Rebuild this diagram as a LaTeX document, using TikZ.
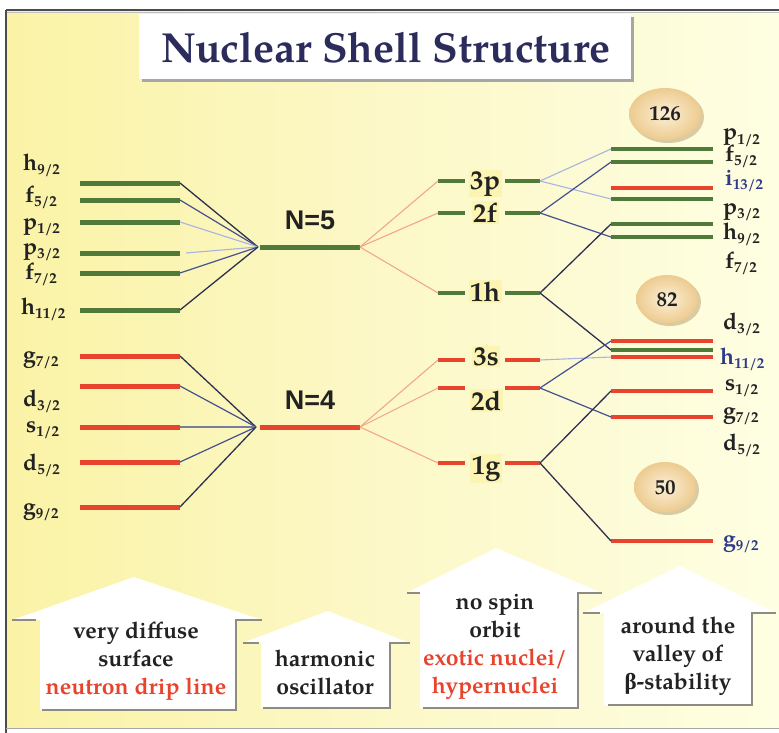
\documentclass[tikz,border=0pt]{standalone}
\usepackage{fontspec}
\setmainfont{TeX Gyre Pagella}
\newfontfamily\sansb{Liberation Sans}
\newfontfamily\grk{Liberation Serif}
\definecolor{lgreen}{HTML}{4F7A3A}
\definecolor{lred}{HTML}{E8432C}
\definecolor{lorange}{HTML}{F3A68C}
\definecolor{cdk}{HTML}{2E3050}
\definecolor{cmd}{HTML}{46508F}
\definecolor{clt}{HTML}{A9B2E2}
\definecolor{tblue}{HTML}{2F3A8A}
\definecolor{tred}{HTML}{E8432C}
\definecolor{ttext}{HTML}{222222}
\definecolor{ttitle}{HTML}{2B2C5C}
\definecolor{bgL}{HTML}{FAF3A6}
\definecolor{bgM}{HTML}{FCF8C8}
\definecolor{bgR}{HTML}{FEFEE2}
\definecolor{hse}{HTML}{8C8C84}
\definecolor{bubI}{HTML}{FCF0D6}
\definecolor{bubO}{HTML}{EDCB90}
\definecolor{hilite}{HTML}{FBF4B2}
\newcommand\lsub[1]{\raisebox{-4.5pt}{\fontsize{15}{15}\selectfont #1}}
\newcommand\lvfont{\fontsize{23}{23}\selectfont\bfseries}
\tikzset{
  lvG/.style={line width=5pt, draw=lgreen},
  lvR/.style={line width=5pt, draw=lred},
  orc/.style={line width=1.1pt, draw=lorange},
  cdark/.style={line width=1.3pt, draw=cdk},
  cmid/.style={line width=1.2pt, draw=cmd},
  clight/.style={line width=1.1pt, draw=clt},
  lab/.style={anchor=base west, inner sep=0pt, font=\lvfont, text=ttext},
  midlab/.style={anchor=base, inner sep=1.5pt, fill=hilite, font=\fontsize{27}{27}\selectfont\bfseries, text=ttext},
  nlab/.style={anchor=base, inner sep=0pt, font=\sansb\fontsize{27}{27}\selectfont\bfseries, text=ttext},
  bubtext/.style={anchor=base, inner sep=0pt, font=\fontsize{21}{21}\selectfont\bfseries, text=ttext},
  boxtext/.style={align=center, inner sep=0pt, font=\fontsize{23}{28}\selectfont\bfseries, text=ttext},
  hseline/.style={draw=hse, line width=1.1pt},
}
\begin{document}
\begin{tikzpicture}[x=1pt,y=-1pt]
\useasboundingbox (0,0) rectangle (779,733);
\fill[white] (0,0) rectangle (779,733);
\shade[left color=bgL, right color=bgR, middle color=bgM] (6,10) rectangle (779,728);
% frame
\draw[draw=black!70, line width=1.6pt] (6,10) -- (779,10);
\draw[draw=black!25, line width=0.8pt] (6,12.5) -- (779,12.5);
\draw[draw=black!70, line width=1.6pt] (6,10) -- (6,733);
\draw[draw=black!35, line width=1pt] (6,728) -- (779,728);

% title
\fill[black!35] (142,17) rectangle (634,82);
\fill[white] (139,14) rectangle (631,79);
\node[inner sep=0pt, font=\fontsize{42}{42}\selectfont\bfseries, text=ttitle] (title) at (386,48) {Nuclear Shell Structure};

% ---------- left levels N=5 ----------
\foreach \n/\yy in {1/183,2/200,3/222,4/253,5/273,6/310}{
  \coordinate (A\n) at (80,\yy); \coordinate (B\n) at (180,\yy);
  \draw[lvG] (A\n) -- (B\n);}
\coordinate (B4s) at (186,253);
\coordinate (C5) at (258,247);
\coordinate (N5a) at (260,247); \coordinate (N5b) at (360,247);
\draw[cdark] (B1) -- (C5);
\draw[cmid] (B2) -- (C5);
\draw[clight] (B3) -- (C5);
\draw[clight] (B4s) -- (C5);
\draw[cmid] (B5) -- (C5);
\draw[cdark] (B6) -- (C5);
\draw[lvG] (N5a) -- (N5b);
\node[nlab] (n5) at (310,229) {N=5};

% ---------- left levels N=4 ----------
\foreach \n/\yy in {1/356,2/386,3/427,4/462,5/507}{
  \coordinate (D\n) at (80,\yy); \coordinate (E\n) at (180,\yy);
  \draw[lvR] (D\n) -- (E\n);}
\coordinate (C4) at (256,427);
\coordinate (N4a) at (260,427); \coordinate (N4b) at (360,427);
\draw[cdark] (E1) -- (C4);
\draw[cmid] (E2) -- (C4);
\draw[clight, draw=black!30!clt] (E3) -- (C4);
\draw[cmid] (E4) -- (C4);
\draw[cdark] (E5) -- (C4);
\draw[lvR] (N4a) -- (N4b);
\node[nlab] (n4) at (310,409) {N=4};

% left labels
\node[lab] (lh92) at (23,170) {h\lsub{9/2}};
\node[lab] (lf52) at (25,202) {f\lsub{5/2}};
\node[lab] (lp12) at (23,229) {p\lsub{1/2}};
\node[lab] (lp32) at (23,254) {p\lsub{3/2}};
\node[lab] (lf72) at (25,279) {f\lsub{7/2}};
\node[lab] (lh112) at (21,314) {h\lsub{11/2}};
\node[lab] (lg72) at (23,362) {g\lsub{7/2}};
\node[lab] (ld32) at (23,406) {d\lsub{3/2}};
\node[lab] (ls12) at (26,432) {s\lsub{1/2}};
\node[lab] (ld52) at (23,470) {d\lsub{5/2}};
\node[lab] (lg92) at (23,514) {g\lsub{9/2}};

% ---------- middle levels ----------
\foreach \n/\yy/\st in {p/181/lvG,f/213/lvG,h/293/lvG,s/360/lvR,d/388/lvR,g/463/lvR}{
  \coordinate (M\n a) at (438,\yy); \coordinate (M\n b) at (465,\yy);
  \coordinate (M\n c) at (505,\yy); \coordinate (M\n d) at (540,\yy);
  \draw[\st, line width=4.5pt] (M\n a) -- (M\n b);
  \draw[\st, line width=4.5pt] (M\n c) -- (M\n d);}
\draw[orc] (N5b) -- (Mpa);
\draw[orc] (N5b) -- (Mfa);
\draw[orc] (N5b) -- (Mha);
\draw[orc] (N4b) -- (Msa);
\draw[orc] (N4b) -- (Mda);
\draw[orc] (N4b) -- (Mga);
\node[midlab] (m3p) at (485,189) {3p};
\node[midlab] (m2f) at (485,222) {2f};
\node[midlab] (m1h) at (485,301) {1h};
\node[midlab] (m3s) at (486,365) {3s};
\node[midlab] (m2d) at (486,410) {2d};
\node[midlab] (m1g) at (486,474) {1g};

% ---------- bubbles ----------
\foreach \nm/\cx/\cy/\rx/\ry/\tx in {b126/665/114/36/26/126, b82/667/299/31/24/82, b50/665/487/31/25/50}{
  \fill[black!20!bubO, opacity=0.55] (\cx+3,\cy+3) ellipse [x radius=\rx pt, y radius=\ry pt];
  \shade[inner color=bubI, outer color=bubO] (\cx,\cy) ellipse [x radius=\rx pt, y radius=\ry pt];
  \node[bubtext] (\nm) at (\cx,\cy+7) {\tx};}

% ---------- right levels ----------
\foreach \n/\yy/\st in {1/149/lvG,2/162/lvG,3/188/lvR,4/199/lvG,5/224/lvG,6/237/lvG,
                        7/341/lvR,8/350/lvG,9/357/lvR,10/391/lvR,11/417/lvR,12/541/lvR}{
  \coordinate (R\n a) at (611,\yy); \coordinate (R\n b) at (713,\yy);
  \draw[\st, line width=4.5pt] (R\n a) -- (R\n b);}
\draw[clight] (Mpd) -- (R1a);
\draw[clight] (Mpd) -- (R4a);
\draw[cmid] (Mfd) -- (R2a);
\draw[cmid] (Mfd) -- (R6a);
\draw[cdark] (Mhd) -- (R5a);
\draw[cdark] (Mhd) -- (R8a);
\draw[clight] (Msd) -- (R9a);
\draw[cmid] (Mdd) -- (R7a);
\draw[cmid] (Mdd) -- (R11a);
\draw[cdark] (Mgd) -- (R10a);
\draw[cdark] (Mgd) -- (R12a);

% right labels
\node[lab] (rp12) at (723,140) {p\lsub{1/2}};
\node[lab] (rf52) at (725,161) {f\lsub{5/2}};
\node[lab, text=tblue] (ri132) at (725,185) {i\lsub{13/2}};
\node[lab] (rp32) at (723,214) {p\lsub{3/2}};
\node[lab] (rh92) at (723,239) {h\lsub{9/2}};
\node[lab] (rf72) at (725,268) {f\lsub{7/2}};
\node[lab] (rd32) at (723,329) {d\lsub{3/2}};
\node[lab, text=tblue] (rh112) at (720,364) {h\lsub{11/2}};
\node[lab] (rs12) at (725,390) {s\lsub{1/2}};
\node[lab] (rg72) at (723,418) {g\lsub{7/2}};
\node[lab] (rd52) at (723,450) {d\lsub{5/2}};
\node[lab, text=tblue] (rg92) at (723,546) {g\lsub{9/2}};

% ---------- bottom boxes ----------
% box 1
\fill[white] (12,620) -- (134,577) -- (262,620) -- (236,620) -- (236,710) -- (40,710) -- (40,620) -- cycle;
\draw[hseline] (12,620) -- (36,620);
\draw[hseline] (262,620) -- (236,620) -- (236,710) -- (42,710);
\node[boxtext] (box1) at (136,661) {very diffuse\\surface\\\textcolor{tred}{neutron drip line}};
% box 2
\fill[white] (242,643) -- (328,611) -- (410,643) -- (390,643) -- (390,708) -- (261,708) -- (261,643) -- cycle;
\draw[hseline] (243,643) -- (259,643);
\draw[hseline] (410,643) -- (390,643) -- (390,708) -- (263,708);
\node[boxtext] (box2) at (325,672) {harmonic\\oscillator};
% box 3
\fill[white] (406,593) -- (496,548) -- (602,593) -- (578,593) -- (578,708) -- (420,708) -- (420,593) -- cycle;
\draw[hseline] (407,593) -- (420,593);
\draw[hseline] (602,593) -- (578,593) -- (578,708) -- (423,708);
\node[boxtext] (box3) at (495,647) {no spin\\orbit\\\textcolor{tred}{exotic nuclei/}\\\textcolor{tred}{hypernuclei}};
% box 4
\fill[white] (583,613) -- (680,566) -- (776,613) -- (752,613) -- (752,705) -- (604,705) -- (604,613) -- cycle;
\draw[hseline] (583,613) -- (600,613);
\draw[hseline] (776,613) -- (752,613) -- (752,705) -- (608,705);
\node[boxtext] (box4) at (678,656) {around the\\valley of\\{\grk β}-stability};
\end{tikzpicture}
\end{document}
